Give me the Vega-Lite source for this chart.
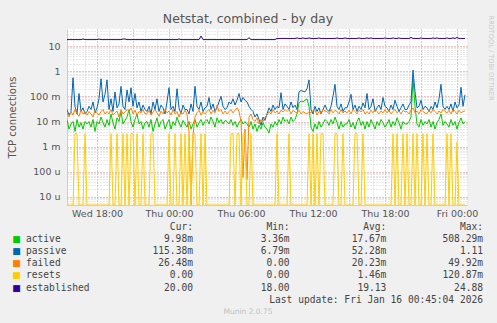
{
"$schema": "https://vega.github.io/schema/vega-lite/v6.json",
"width": 400, "height": 176,
"autosize": {"type": "none"},
"padding": {"left": 67, "top": 29, "right": 30, "bottom": 118},
"background": "#f0f0f0",
"title": {"text": "Netstat, combined - by day", "font": "DejaVu Sans", "fontSize": 12.5, "fontWeight": "normal", "color": "#555555", "anchor": "middle", "frame": "group", "dx": -19, "offset": -20.5, "baseline": "alphabetic"},
"config": {"view": {"fill": "white", "stroke": null}, "font": "DejaVu Sans"},
"datasets": {
"series": [
{"time":"2026-01-14T15:30","active":0.012,"passive":0.03,"failed":0.022,"resets":0,"established":18},
{"time":"2026-01-14T15:40","active":0.005,"passive":0.018,"failed":0.015,"resets":0,"established":18},
{"time":"2026-01-14T15:50","active":0.008,"passive":0.025,"failed":0.025,"resets":0,"established":18},
{"time":"2026-01-14T16:00","active":0.01,"passive":0.55,"failed":0.018,"resets":0,"established":18},
{"time":"2026-01-14T16:10","active":0.004,"passive":0.04,"failed":0.03,"resets":0.0033,"established":18},
{"time":"2026-01-14T16:20","active":0.012,"passive":0.02,"failed":0.02,"resets":0.0033,"established":18},
{"time":"2026-01-14T16:30","active":0.006,"passive":0.13,"failed":0.016,"resets":0,"established":18},
{"time":"2026-01-14T16:40","active":0.009,"passive":0.025,"failed":0.028,"resets":0,"established":18},
{"time":"2026-01-14T16:50","active":0.005,"passive":0.035,"failed":0.02,"resets":0,"established":19},
{"time":"2026-01-14T17:00","active":0.01,"passive":0.02,"failed":0.024,"resets":0.0033,"established":18},
{"time":"2026-01-14T17:10","active":0.008,"passive":0.025,"failed":0.018,"resets":0,"established":18},
{"time":"2026-01-14T17:20","active":0.01,"passive":0.04,"failed":0.025,"resets":0,"established":18},
{"time":"2026-01-14T17:30","active":0.006,"passive":0.03,"failed":0.02,"resets":0,"established":18},
{"time":"2026-01-14T17:40","active":0.012,"passive":0.06,"failed":0.015,"resets":0,"established":18},
{"time":"2026-01-14T17:50","active":0.004,"passive":0.022,"failed":0.028,"resets":0,"established":18},
{"time":"2026-01-14T18:00","active":0.01,"passive":0.035,"failed":0.022,"resets":0,"established":18},
{"time":"2026-01-14T18:10","active":0.008,"passive":0.08,"failed":0.018,"resets":0,"established":19},
{"time":"2026-01-14T18:20","active":0.015,"passive":0.5,"failed":0.025,"resets":0,"established":18},
{"time":"2026-01-14T18:30","active":0.009,"passive":0.06,"failed":0.03,"resets":0,"established":18},
{"time":"2026-01-14T18:40","active":0.006,"passive":0.12,"failed":0.02,"resets":0,"established":18},
{"time":"2026-01-14T18:50","active":0.012,"passive":0.45,"failed":0.025,"resets":0,"established":18},
{"time":"2026-01-14T19:00","active":0.007,"passive":0.03,"failed":0.02,"resets":0,"established":18},
{"time":"2026-01-14T19:10","active":0.02,"passive":0.08,"failed":0.03,"resets":0.0033,"established":18},
{"time":"2026-01-14T19:20","active":0.009,"passive":0.025,"failed":0.018,"resets":0,"established":18},
{"time":"2026-01-14T19:30","active":0.005,"passive":0.15,"failed":0.022,"resets":0,"established":18},
{"time":"2026-01-14T19:40","active":0.014,"passive":0.035,"failed":0.026,"resets":0.0033,"established":18},
{"time":"2026-01-14T19:50","active":0.01,"passive":0.05,"failed":0.015,"resets":0,"established":18},
{"time":"2026-01-14T20:00","active":0.025,"passive":0.25,"failed":0.03,"resets":0,"established":18},
{"time":"2026-01-14T20:10","active":0.008,"passive":0.04,"failed":0.02,"resets":0.0033,"established":19},
{"time":"2026-01-14T20:20","active":0.011,"passive":0.03,"failed":0.024,"resets":0,"established":19},
{"time":"2026-01-14T20:30","active":0.015,"passive":0.18,"failed":0.03,"resets":0.0033,"established":18},
{"time":"2026-01-14T20:40","active":0.03,"passive":0.06,"failed":0.025,"resets":0,"established":18},
{"time":"2026-01-14T20:50","active":0.01,"passive":0.22,"failed":0.035,"resets":0.0033,"established":18},
{"time":"2026-01-14T21:00","active":0.006,"passive":0.04,"failed":0.02,"resets":0.0033,"established":18},
{"time":"2026-01-14T21:10","active":0.012,"passive":0.13,"failed":0.028,"resets":0,"established":18},
{"time":"2026-01-14T21:20","active":0.02,"passive":0.035,"failed":0.018,"resets":0.0033,"established":18},
{"time":"2026-01-14T21:30","active":0.008,"passive":0.06,"failed":0.025,"resets":0,"established":18},
{"time":"2026-01-14T21:40","active":0.01,"passive":0.025,"failed":0.022,"resets":0,"established":18},
{"time":"2026-01-14T21:50","active":0.005,"passive":0.045,"failed":0.03,"resets":0.0033,"established":18},
{"time":"2026-01-14T22:00","active":0.009,"passive":0.03,"failed":0.02,"resets":0,"established":18},
{"time":"2026-01-14T22:10","active":0.01,"passive":0.025,"failed":0.02,"resets":0,"established":18},
{"time":"2026-01-14T22:20","active":0.006,"passive":0.04,"failed":0.028,"resets":0,"established":18},
{"time":"2026-01-14T22:30","active":0.012,"passive":0.02,"failed":0.018,"resets":0.0033,"established":18},
{"time":"2026-01-14T22:40","active":0.004,"passive":0.06,"failed":0.024,"resets":0.0033,"established":18},
{"time":"2026-01-14T22:50","active":0.008,"passive":0.03,"failed":0.03,"resets":0,"established":18},
{"time":"2026-01-14T23:00","active":0.014,"passive":0.08,"failed":0.022,"resets":0,"established":18},
{"time":"2026-01-14T23:10","active":0.006,"passive":0.025,"failed":0.016,"resets":0,"established":18},
{"time":"2026-01-14T23:20","active":0.01,"passive":0.045,"failed":0.026,"resets":0,"established":18},
{"time":"2026-01-14T23:30","active":0.012,"passive":0.035,"failed":0.02,"resets":0,"established":18},
{"time":"2026-01-14T23:40","active":0.005,"passive":0.02,"failed":0.03,"resets":0,"established":18},
{"time":"2026-01-14T23:50","active":0.008,"passive":0.06,"failed":0.022,"resets":0,"established":18},
{"time":"2026-01-15T00:00","active":0.012,"passive":0.22,"failed":0.026,"resets":0.0033,"established":18},
{"time":"2026-01-15T00:10","active":0.005,"passive":0.03,"failed":0.018,"resets":0,"established":18},
{"time":"2026-01-15T00:20","active":0.01,"passive":0.04,"failed":0.03,"resets":0,"established":18},
{"time":"2026-01-15T00:30","active":0.007,"passive":0.025,"failed":0.02,"resets":0.0033,"established":18},
{"time":"2026-01-15T00:40","active":0.015,"passive":0.2,"failed":0.025,"resets":0,"established":18},
{"time":"2026-01-15T00:50","active":0.009,"passive":0.035,"failed":0.015,"resets":0,"established":19},
{"time":"2026-01-15T01:00","active":0.006,"passive":0.02,"failed":0.024,"resets":0.0033,"established":18},
{"time":"2026-01-15T01:10","active":0.011,"passive":0.045,"failed":0.02,"resets":0,"established":18},
{"time":"2026-01-15T01:20","active":0.008,"passive":0.03,"failed":0.028,"resets":0.0033,"established":18},
{"time":"2026-01-15T01:30","active":0.006,"passive":0.03,"failed":0.02,"resets":0,"established":18},
{"time":"2026-01-15T01:40","active":0.01,"passive":0.02,"failed":0.004,"resets":0.0033,"established":18},
{"time":"2026-01-15T01:50","active":0.005,"passive":0.05,"failed":0,"resets":0,"established":18},
{"time":"2026-01-15T02:00","active":0.008,"passive":0.025,"failed":0.003,"resets":0.0033,"established":18},
{"time":"2026-01-15T02:10","active":0.012,"passive":0.25,"failed":0.015,"resets":0.0033,"established":18},
{"time":"2026-01-15T02:20","active":0.006,"passive":0.04,"failed":0.022,"resets":0,"established":18},
{"time":"2026-01-15T02:30","active":0.009,"passive":0.03,"failed":0.028,"resets":0,"established":18},
{"time":"2026-01-15T02:40","active":0.012,"passive":0.06,"failed":0.018,"resets":0.0033,"established":24.88},
{"time":"2026-01-15T02:50","active":0.007,"passive":0.025,"failed":0.025,"resets":0,"established":18},
{"time":"2026-01-15T03:00","active":0.01,"passive":0.035,"failed":0.02,"resets":0.0033,"established":18},
{"time":"2026-01-15T03:10","active":0.012,"passive":0.04,"failed":0.025,"resets":0,"established":18},
{"time":"2026-01-15T03:20","active":0.008,"passive":0.09,"failed":0.03,"resets":0,"established":18},
{"time":"2026-01-15T03:30","active":0.015,"passive":0.03,"failed":0.02,"resets":0,"established":18},
{"time":"2026-01-15T03:40","active":0.01,"passive":0.05,"failed":0.028,"resets":0,"established":18},
{"time":"2026-01-15T03:50","active":0.006,"passive":0.025,"failed":0.022,"resets":0,"established":18},
{"time":"2026-01-15T04:00","active":0.014,"passive":0.035,"failed":0.045,"resets":0,"established":18},
{"time":"2026-01-15T04:10","active":0.009,"passive":0.06,"failed":0.025,"resets":0,"established":18},
{"time":"2026-01-15T04:20","active":0.012,"passive":0.1,"failed":0.03,"resets":0,"established":18},
{"time":"2026-01-15T04:30","active":0.008,"passive":0.04,"failed":0.02,"resets":0,"established":18},
{"time":"2026-01-15T04:40","active":0.011,"passive":0.03,"failed":0.026,"resets":0,"established":18},
{"time":"2026-01-15T04:50","active":0.01,"passive":0.035,"failed":0.02,"resets":0,"established":18},
{"time":"2026-01-15T05:00","active":0.008,"passive":0.06,"failed":0.025,"resets":0,"established":18},
{"time":"2026-01-15T05:10","active":0.012,"passive":0.05,"failed":0.03,"resets":0.0033,"established":18},
{"time":"2026-01-15T05:20","active":0.007,"passive":0.08,"failed":0.022,"resets":0.0033,"established":18},
{"time":"2026-01-15T05:30","active":0.01,"passive":0.045,"failed":0.028,"resets":0,"established":18},
{"time":"2026-01-15T05:40","active":0.006,"passive":0.07,"failed":0.035,"resets":0.0033,"established":18},
{"time":"2026-01-15T05:50","active":0.009,"passive":0.13,"failed":0.025,"resets":0.0033,"established":18},
{"time":"2026-01-15T06:00","active":0.012,"passive":0.06,"failed":0.01,"resets":0,"established":18},
{"time":"2026-01-15T06:10","active":0.008,"passive":0.09,"failed":0.00006,"resets":0.0033,"established":18},
{"time":"2026-01-15T06:20","active":0.01,"passive":0.07,"failed":0.005,"resets":0.0033,"established":18},
{"time":"2026-01-15T06:30","active":0.008,"passive":0.06,"failed":0.00005,"resets":0,"established":18},
{"time":"2026-01-15T06:40","active":0.006,"passive":0.04,"failed":0.015,"resets":0,"established":21.5},
{"time":"2026-01-15T06:50","active":0.01,"passive":0.03,"failed":0.02,"resets":0.0033,"established":18},
{"time":"2026-01-15T07:00","active":0.005,"passive":0.025,"failed":0.012,"resets":0,"established":18},
{"time":"2026-01-15T07:10","active":0.008,"passive":0.015,"failed":0.01,"resets":0,"established":18},
{"time":"2026-01-15T07:20","active":0.004,"passive":0.02,"failed":0.014,"resets":0,"established":18},
{"time":"2026-01-15T07:30","active":0.007,"passive":0.012,"failed":0.008,"resets":0,"established":18},
{"time":"2026-01-15T07:40","active":0.005,"passive":0.007,"failed":0.012,"resets":0,"established":18},
{"time":"2026-01-15T07:50","active":0.009,"passive":0.015,"failed":0.01,"resets":0,"established":18},
{"time":"2026-01-15T08:00","active":0.006,"passive":0.011,"failed":0.015,"resets":0,"established":18},
{"time":"2026-01-15T08:10","active":0.005,"passive":0.02,"failed":0.018,"resets":0,"established":18},
{"time":"2026-01-15T08:20","active":0.0035,"passive":0.035,"failed":0.025,"resets":0,"established":18},
{"time":"2026-01-15T08:30","active":0.008,"passive":0.025,"failed":0.02,"resets":0,"established":18},
{"time":"2026-01-15T08:40","active":0.006,"passive":0.045,"failed":0.03,"resets":0,"established":18},
{"time":"2026-01-15T08:50","active":0.01,"passive":0.03,"failed":0.022,"resets":0,"established":18},
{"time":"2026-01-15T09:00","active":0.007,"passive":0.04,"failed":0.026,"resets":0.0033,"established":20},
{"time":"2026-01-15T09:10","active":0.012,"passive":0.035,"failed":0.02,"resets":0,"established":20},
{"time":"2026-01-15T09:20","active":0.008,"passive":0.14,"failed":0.028,"resets":0,"established":20},
{"time":"2026-01-15T09:30","active":0.015,"passive":0.03,"failed":0.024,"resets":0,"established":20},
{"time":"2026-01-15T09:40","active":0.01,"passive":0.05,"failed":0.03,"resets":0,"established":20},
{"time":"2026-01-15T09:50","active":0.012,"passive":0.04,"failed":0.025,"resets":0,"established":20},
{"time":"2026-01-15T10:00","active":0.008,"passive":0.03,"failed":0.03,"resets":0.0033,"established":20},
{"time":"2026-01-15T10:10","active":0.015,"passive":0.06,"failed":0.02,"resets":0,"established":20},
{"time":"2026-01-15T10:20","active":0.01,"passive":0.035,"failed":0.028,"resets":0,"established":20},
{"time":"2026-01-15T10:30","active":0.012,"passive":0.045,"failed":0.024,"resets":0,"established":20},
{"time":"2026-01-15T10:40","active":0.02,"passive":0.03,"failed":0.022,"resets":0,"established":21},
{"time":"2026-01-15T10:50","active":0.055,"passive":0.15,"failed":0.028,"resets":0,"established":20},
{"time":"2026-01-15T11:00","active":0.065,"passive":0.17,"failed":0.02,"resets":0,"established":20},
{"time":"2026-01-15T11:10","active":0.06,"passive":0.16,"failed":0.025,"resets":0,"established":21},
{"time":"2026-01-15T11:20","active":0.07,"passive":0.15,"failed":0.022,"resets":0,"established":20},
{"time":"2026-01-15T11:30","active":0.08,"passive":0.2,"failed":0.02,"resets":0,"established":20},
{"time":"2026-01-15T11:40","active":0.04,"passive":0.45,"failed":0.025,"resets":0.0033,"established":21},
{"time":"2026-01-15T11:50","active":0.006,"passive":0.03,"failed":0.022,"resets":0,"established":20},
{"time":"2026-01-15T12:00","active":0.004,"passive":0.02,"failed":0.028,"resets":0.0033,"established":20},
{"time":"2026-01-15T12:10","active":0.008,"passive":0.04,"failed":0.03,"resets":0,"established":20},
{"time":"2026-01-15T12:20","active":0.005,"passive":0.025,"failed":0.018,"resets":0.0033,"established":20},
{"time":"2026-01-15T12:30","active":0.01,"passive":0.035,"failed":0.025,"resets":0,"established":21},
{"time":"2026-01-15T12:40","active":0.006,"passive":0.02,"failed":0.022,"resets":0.0033,"established":20},
{"time":"2026-01-15T12:50","active":0.008,"passive":0.03,"failed":0.03,"resets":0.0033,"established":20},
{"time":"2026-01-15T13:00","active":0.012,"passive":0.045,"failed":0.026,"resets":0,"established":20},
{"time":"2026-01-15T13:10","active":0.01,"passive":0.03,"failed":0.025,"resets":0,"established":20},
{"time":"2026-01-15T13:20","active":0.007,"passive":0.025,"failed":0.02,"resets":0,"established":20},
{"time":"2026-01-15T13:30","active":0.012,"passive":0.04,"failed":0.03,"resets":0,"established":20},
{"time":"2026-01-15T13:40","active":0.008,"passive":0.1,"failed":0.022,"resets":0,"established":20},
{"time":"2026-01-15T13:50","active":0.015,"passive":0.3,"failed":0.028,"resets":0.0033,"established":20},
{"time":"2026-01-15T14:00","active":0.009,"passive":0.04,"failed":0.025,"resets":0.0033,"established":21},
{"time":"2026-01-15T14:10","active":0.005,"passive":0.03,"failed":0.02,"resets":0,"established":20},
{"time":"2026-01-15T14:20","active":0.01,"passive":0.05,"failed":0.03,"resets":0,"established":20},
{"time":"2026-01-15T14:30","active":0.006,"passive":0.025,"failed":0.022,"resets":0.0033,"established":20},
{"time":"2026-01-15T14:40","active":0.008,"passive":0.035,"failed":0.026,"resets":0,"established":21},
{"time":"2026-01-15T14:50","active":0.008,"passive":0.035,"failed":0.022,"resets":0,"established":20},
{"time":"2026-01-15T15:00","active":0.012,"passive":0.06,"failed":0.028,"resets":0,"established":20},
{"time":"2026-01-15T15:10","active":0.006,"passive":0.12,"failed":0.02,"resets":0,"established":20},
{"time":"2026-01-15T15:20","active":0.009,"passive":0.03,"failed":0.03,"resets":0,"established":20},
{"time":"2026-01-15T15:30","active":0.005,"passive":0.045,"failed":0.025,"resets":0.0033,"established":20},
{"time":"2026-01-15T15:40","active":0.01,"passive":0.025,"failed":0.02,"resets":0.0033,"established":20},
{"time":"2026-01-15T15:50","active":0.014,"passive":0.04,"failed":0.028,"resets":0,"established":21},
{"time":"2026-01-15T16:00","active":0.007,"passive":0.03,"failed":0.024,"resets":0,"established":20},
{"time":"2026-01-15T16:10","active":0.01,"passive":0.055,"failed":0.03,"resets":0.0033,"established":20},
{"time":"2026-01-15T16:20","active":0.005,"passive":0.035,"failed":0.02,"resets":0,"established":20},
{"time":"2026-01-15T16:30","active":0.01,"passive":0.13,"failed":0.025,"resets":0,"established":21},
{"time":"2026-01-15T16:40","active":0.006,"passive":0.03,"failed":0.02,"resets":0,"established":20},
{"time":"2026-01-15T16:50","active":0.012,"passive":0.04,"failed":0.028,"resets":0,"established":21},
{"time":"2026-01-15T17:00","active":0.008,"passive":0.08,"failed":0.022,"resets":0,"established":20},
{"time":"2026-01-15T17:10","active":0.005,"passive":0.025,"failed":0.03,"resets":0,"established":20},
{"time":"2026-01-15T17:20","active":0.01,"passive":0.035,"failed":0.025,"resets":0,"established":20},
{"time":"2026-01-15T17:30","active":0.007,"passive":0.045,"failed":0.02,"resets":0,"established":20},
{"time":"2026-01-15T17:40","active":0.012,"passive":0.03,"failed":0.026,"resets":0,"established":20},
{"time":"2026-01-15T17:50","active":0.009,"passive":0.09,"failed":0.022,"resets":0,"established":20},
{"time":"2026-01-15T18:00","active":0.006,"passive":0.04,"failed":0.03,"resets":0,"established":21},
{"time":"2026-01-15T18:10","active":0.008,"passive":0.035,"failed":0.022,"resets":0,"established":20},
{"time":"2026-01-15T18:20","active":0.012,"passive":0.025,"failed":0.028,"resets":0,"established":20},
{"time":"2026-01-15T18:30","active":0.006,"passive":0.045,"failed":0.02,"resets":0,"established":20},
{"time":"2026-01-15T18:40","active":0.01,"passive":0.03,"failed":0.025,"resets":0.0033,"established":21},
{"time":"2026-01-15T18:50","active":0.007,"passive":0.07,"failed":0.03,"resets":0,"established":20},
{"time":"2026-01-15T19:00","active":0.014,"passive":0.04,"failed":0.022,"resets":0.0033,"established":20},
{"time":"2026-01-15T19:10","active":0.009,"passive":0.025,"failed":0.026,"resets":0,"established":21},
{"time":"2026-01-15T19:20","active":0.005,"passive":0.035,"failed":0.02,"resets":0,"established":20},
{"time":"2026-01-15T19:30","active":0.01,"passive":0.05,"failed":0.028,"resets":0.0033,"established":20},
{"time":"2026-01-15T19:40","active":0.008,"passive":0.03,"failed":0.024,"resets":0,"established":20},
{"time":"2026-01-15T19:50","active":0.008,"passive":0.03,"failed":0.025,"resets":0.0033,"established":20},
{"time":"2026-01-15T20:00","active":0.01,"passive":0.045,"failed":0.02,"resets":0,"established":20},
{"time":"2026-01-15T20:10","active":0.015,"passive":0.06,"failed":0.028,"resets":0,"established":22},
{"time":"2026-01-15T20:20","active":0.508,"passive":1.11,"failed":0.035,"resets":0.0033,"established":20},
{"time":"2026-01-15T20:30","active":0.04,"passive":0.15,"failed":0.022,"resets":0,"established":20},
{"time":"2026-01-15T20:40","active":0.008,"passive":0.035,"failed":0.026,"resets":0.0033,"established":20},
{"time":"2026-01-15T20:50","active":0.006,"passive":0.04,"failed":0.02,"resets":0,"established":20},
{"time":"2026-01-15T21:00","active":0.012,"passive":0.07,"failed":0.03,"resets":0,"established":21},
{"time":"2026-01-15T21:10","active":0.007,"passive":0.03,"failed":0.025,"resets":0.0033,"established":20},
{"time":"2026-01-15T21:20","active":0.01,"passive":0.04,"failed":0.022,"resets":0,"established":20},
{"time":"2026-01-15T21:30","active":0.008,"passive":0.035,"failed":0.02,"resets":0.0033,"established":20},
{"time":"2026-01-15T21:40","active":0.012,"passive":0.025,"failed":0.028,"resets":0,"established":20},
{"time":"2026-01-15T21:50","active":0.006,"passive":0.04,"failed":0.022,"resets":0,"established":20},
{"time":"2026-01-15T22:00","active":0.01,"passive":0.03,"failed":0.03,"resets":0.0033,"established":21},
{"time":"2026-01-15T22:10","active":0.005,"passive":0.06,"failed":0.025,"resets":0,"established":20},
{"time":"2026-01-15T22:20","active":0.009,"passive":0.035,"failed":0.02,"resets":0,"established":21},
{"time":"2026-01-15T22:30","active":0.012,"passive":0.08,"failed":0.026,"resets":0,"established":20},
{"time":"2026-01-15T22:40","active":0.02,"passive":0.3,"failed":0.022,"resets":0,"established":20},
{"time":"2026-01-15T22:50","active":0.007,"passive":0.04,"failed":0.03,"resets":0,"established":20},
{"time":"2026-01-15T23:00","active":0.01,"passive":0.03,"failed":0.025,"resets":0,"established":20},
{"time":"2026-01-15T23:10","active":0.008,"passive":0.04,"failed":0.022,"resets":0.0033,"established":21},
{"time":"2026-01-15T23:20","active":0.006,"passive":0.03,"failed":0.028,"resets":0,"established":20},
{"time":"2026-01-15T23:30","active":0.012,"passive":0.05,"failed":0.02,"resets":0.0033,"established":20},
{"time":"2026-01-15T23:40","active":0.007,"passive":0.025,"failed":0.03,"resets":0,"established":21},
{"time":"2026-01-15T23:50","active":0.01,"passive":0.06,"failed":0.025,"resets":0,"established":20},
{"time":"2026-01-16T00:00","active":0.005,"passive":0.035,"failed":0.02,"resets":0.0015,"established":22},
{"time":"2026-01-16T00:10","active":0.009,"passive":0.045,"failed":0.028,"resets":0,"established":20},
{"time":"2026-01-16T00:20","active":0.014,"passive":0.23,"failed":0.022,"resets":0,"established":20},
{"time":"2026-01-16T00:30","active":0.008,"passive":0.04,"failed":0.025,"resets":0,"established":20},
{"time":"2026-01-16T00:40","active":0.00998,"passive":0.11538,"failed":0.02648,"resets":0,"established":20}
],
"legend": [
{"row":0,"cur":"Cur:\u00a0\u00a0","min":"Min:\u00a0\u00a0","avg":"Avg:\u00a0\u00a0","max":"Max:\u00a0\u00a0"},
{"row":1,"series":"active","cur":"9.98m","min":"3.36m","avg":"17.67m","max":"508.29m"},
{"row":2,"series":"passive","cur":"115.38m","min":"6.79m","avg":"52.28m","max":"1.11\u00a0"},
{"row":3,"series":"failed","cur":"26.48m","min":"0.00\u00a0","avg":"20.23m","max":"49.92m"},
{"row":4,"series":"resets","cur":"0.00\u00a0","min":"0.00\u00a0","avg":"1.46m","max":"120.87m"},
{"row":5,"series":"established","cur":"20.00\u00a0","min":"18.00\u00a0","avg":"19.13\u00a0","max":"24.88\u00a0"},
{"row":6,"max":"Last update: Fri Jan 16 00:45:04 2026"},
{"row":7,"footer":"Munin 2.0.75"}
]
},
"layer": [
{
"data": {"name": "series"},
"transform": [{"fold": ["active","passive","failed","resets","established"], "as": ["key","value"]}],
"encoding": {
"color": {"field": "key", "type": "nominal",
 "scale": {"domain": ["active","passive","failed","resets","established"], "range": ["#00cc00","#0066b3","#ff8000","#ffcc00","#330099"]},
 "legend": null}
},
"layer": [
{"transform": [{"filter": "datum.key === 'active'"}], "mark": {"type": "line", "strokeWidth": 1, "clip": true},
 "encoding": {
  "x": {"field": "time", "type": "temporal",
   "scale": {"domain": [{"year":2026,"month":1,"date":14,"hours":15,"minutes":30},{"year":2026,"month":1,"date":16,"hours":0,"minutes":50}], "nice": false},
   "axis": {"orient": "bottom", "title": null, "tickCount": 40, "labels": false, "ticks": false, "domain": false, "grid": true, "gridColor": "#d0d0d0", "gridDash": [1,2], "gridOpacity": 1}},
  "y": {"field": "value", "type": "quantitative",
   "scale": {"type": "log", "domain": [0.0000048, 47.5], "clamp": true, "nice": false},
   "axis": {"orient": "left", "title": null, "tickCount": 100, "labels": false, "ticks": false, "domain": false, "grid": true, "gridColor": "#d0d0d0", "gridDash": [1,2], "gridOpacity": 1}}}},
{"transform": [{"filter": "datum.key === 'passive'"}], "mark": {"type": "line", "strokeWidth": 1, "clip": true},
 "encoding": {
  "x": {"field": "time", "type": "temporal",
   "scale": {"domain": [{"year":2026,"month":1,"date":14,"hours":15,"minutes":30},{"year":2026,"month":1,"date":16,"hours":0,"minutes":50}], "nice": false},
   "axis": {"orient": "bottom", "title": null, "tickCount": 12, "labels": false, "ticks": false, "domain": false, "grid": true, "gridColor": "#e8a0a0", "gridDash": [1,2], "gridOpacity": 1}},
  "y": {"field": "value", "type": "quantitative",
   "scale": {"type": "log", "domain": [0.0000048, 47.5], "clamp": true, "nice": false},
   "axis": {"orient": "left", "title": null, "values": [0.00001,0.0001,0.001,0.01,0.1,1,10], "labels": false, "ticks": false, "domain": false, "grid": true, "gridColor": "#e8a0a0", "gridDash": [1,2], "gridOpacity": 1}}}},
{"transform": [{"filter": "datum.key === 'failed'"}], "mark": {"type": "line", "strokeWidth": 1, "clip": true},
 "encoding": {
  "x": {"field": "time", "type": "temporal",
   "scale": {"domain": [{"year":2026,"month":1,"date":14,"hours":15,"minutes":30},{"year":2026,"month":1,"date":16,"hours":0,"minutes":50}], "nice": false},
   "axis": {"orient": "bottom", "title": null, "tickCount": 7, "format": "%a %H:%M", "grid": false, "ticks": false,
    "labelOverlap": false, "labelFlush": false, "labelFont": "DejaVu Sans", "labelFontSize": 9.5, "labelColor": "#555555", "labelPadding": 3,
    "domain": true, "domainColor": "#c8c8f0"}},
  "y": {"field": "value", "type": "quantitative",
   "scale": {"type": "log", "domain": [0.0000048, 47.5], "clamp": true, "nice": false},
   "axis": {"orient": "left", "title": "TCP connections", "titleFont": "DejaVu Sans", "titleFontSize": 10, "titleFontWeight": "normal", "titleColor": "#555555", "titlePadding": 12,
    "values": [0.00001,0.0001,0.001,0.01,0.1,1,10], "grid": false, "ticks": false, "labelOverlap": false, "labelFlush": false,
    "labelExpr": "datum.value >= 1 ? format(datum.value, 'd') + '\u00a0\u00a0' : datum.value >= 0.001 ? format(datum.value*1000, 'd') + ' m' : format(datum.value*1000000, 'd') + ' u'",
    "labelFont": "DejaVu Sans", "labelFontSize": 9.5, "labelColor": "#555555", "labelPadding": 7,
    "domain": true, "domainColor": "#c8c8f0"}}}},
{"transform": [{"filter": "datum.key === 'resets'"}], "mark": {"type": "line", "strokeWidth": 1, "clip": true},
 "encoding": {
  "x": {"field": "time", "type": "temporal",
   "scale": {"domain": [{"year":2026,"month":1,"date":14,"hours":15,"minutes":30},{"year":2026,"month":1,"date":16,"hours":0,"minutes":50}], "nice": false},
   "axis": null},
  "y": {"field": "value", "type": "quantitative",
   "scale": {"type": "log", "domain": [0.0000048, 47.5], "clamp": true, "nice": false},
   "axis": {"orient": "right", "title": "RRDTOOL / TOBI OETIKER", "labels": false, "ticks": false, "domain": false, "grid": false,
    "titleAngle": 90, "titleX": 23, "titleY": 28.5, "titleAlign": "center", "titleBaseline": "middle",
    "titleFont": "DejaVu Sans", "titleFontSize": 6.6, "titleFontWeight": "normal", "titleColor": "#c8c8c8"}}}},
{"transform": [{"filter": "datum.key === 'established'"}], "mark": {"type": "line", "strokeWidth": 1, "clip": true},
 "encoding": {
  "x": {"field": "time", "type": "temporal",
   "scale": {"domain": [{"year":2026,"month":1,"date":14,"hours":15,"minutes":30},{"year":2026,"month":1,"date":16,"hours":0,"minutes":50}], "nice": false},
   "axis": null},
  "y": {"field": "value", "type": "quantitative",
   "scale": {"type": "log", "domain": [0.0000048, 47.5], "clamp": true, "nice": false},
   "axis": null}}}
],
"resolve": {"axis": {"x": "independent", "y": "independent"}}
},
{
"data": {"name": "legend"},
"encoding": {
"y": {"field": "row", "type": "ordinal", "scale": {"type": "point", "domain": [0,1,2,3,4,5,6,7], "range": [198, 282.7], "padding": 0}, "axis": null}
},
"layer": [
{"transform": [{"filter": "isValid(datum.series)"}],
 "mark": {"type": "text", "text": "■", "font": "DejaVu Sans", "fontSize": 9, "align": "center", "baseline": "middle", "dx": 17},
 "encoding": {
  "x": {"datum": "label", "type": "nominal", "scale": {"type": "point", "domain": ["label","gap","cur","min","avg","max"], "range": [-67.4, 416], "padding": 0}, "axis": null},
  "color": {"field": "series", "type": "nominal", "legend": null}}},
{"transform": [{"filter": "isValid(datum.series)"}],
 "mark": {"type": "text", "font": "DejaVu Sans Mono", "fontSize": 9.6, "align": "left", "baseline": "middle", "dx": 26.4, "color": "#444444"},
 "encoding": {
  "x": {"datum": "label", "type": "nominal"},
  "text": {"field": "series"}}},
{"transform": [{"fold": ["cur","min","avg","max"], "as": ["col","txt"]}, {"filter": "isValid(datum.txt)"}],
 "mark": {"type": "text", "font": "DejaVu Sans Mono", "fontSize": 9.6, "align": "right", "baseline": "middle", "color": "#444444"},
 "encoding": {
  "x": {"field": "col", "type": "nominal"},
  "text": {"field": "txt"}}},
{"transform": [{"filter": "isValid(datum.footer)"}],
 "mark": {"type": "text", "font": "DejaVu Sans", "fontSize": 7.5, "align": "center", "baseline": "middle", "dx": 55, "color": "#c0c0c0"},
 "encoding": {
  "x": {"datum": "cur", "type": "nominal"},
  "text": {"field": "footer"}}}
]
}
],
"resolve": {"scale": {"x": "independent", "y": "independent"}}
}
